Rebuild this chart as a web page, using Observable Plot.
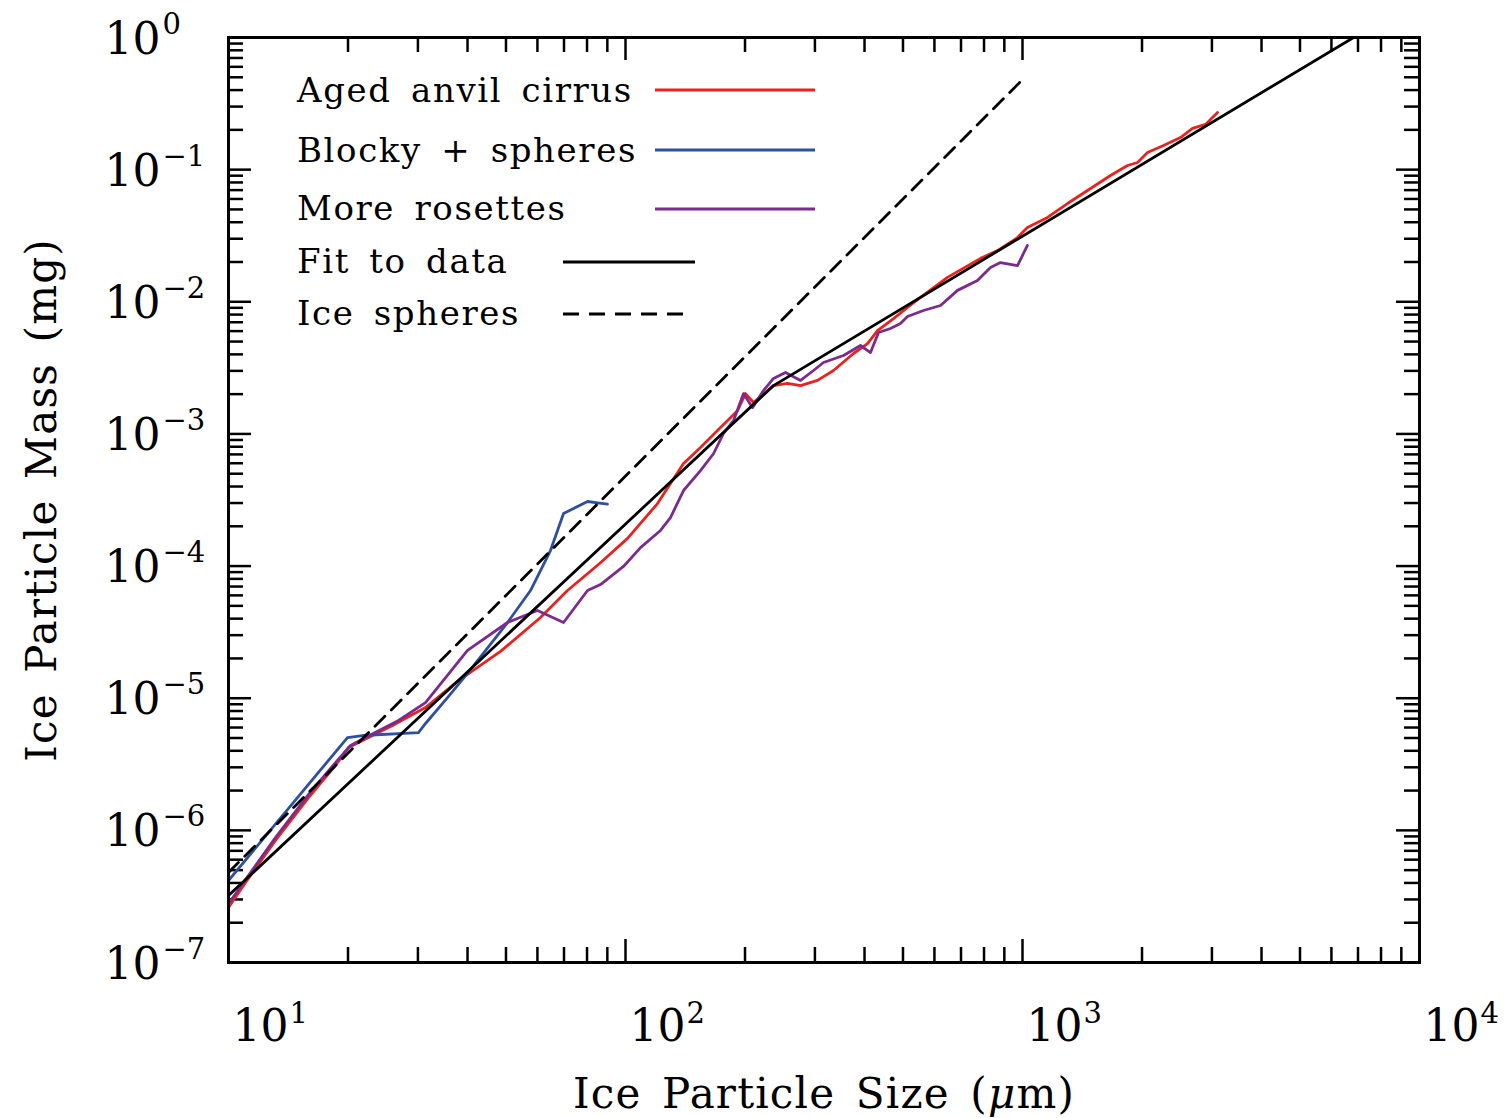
<!DOCTYPE html>
<html><head><meta charset="utf-8">
<script src="https://cdn.jsdelivr.net/npm/d3@7"></script>
<script src="https://cdn.jsdelivr.net/npm/@observablehq/plot@0.6"></script>
<style>body{margin:0;background:#fff}</style>
</head><body><div id="chart"></div>
<script>
// ---- data (size in µm, mass in mg) ----
const agedSize = [10, 11.04, 13.13, 15.91, 18.6, 20.06, 22.53, 25.89, 31.35, 37.74, 48.44, 61.08, 71.43, 86.49, 101.2, 120.4, 140.0, 154.5, 173.5, 191.5, 200.6, 210.1, 235.9, 255.9, 276.0, 304.5, 334.2, 375.2, 407.0, 431.3, 473.3, 513.3, 553.4, 647.2, 783.9, 865.0, 971.4, 1029, 1156, 1298, 1458, 1666, 1839, 1949, 2065, 2266, 2500, 2681, 2891, 3099];
const agedMass = [2.61e-7, 4.03e-7, 8.38e-7, 1.77e-6, 3.10e-6, 4.24e-6, 5.04e-6, 6.21e-6, 8.51e-6, 1.34e-5, 2.26e-5, 4.08e-5, 6.53e-5, 1.06e-4, 1.62e-4, 2.97e-4, 5.97e-4, 7.89e-4, 1.12e-3, 1.50e-3, 2.02e-3, 1.73e-3, 2.32e-3, 2.41e-3, 2.32e-3, 2.54e-3, 3.02e-3, 4.06e-3, 4.83e-3, 6.06e-3, 7.47e-3, 9.05e-3, 1.08e-2, 1.53e-2, 2.13e-2, 2.44e-2, 3.06e-2, 3.65e-2, 4.35e-2, 5.54e-2, 6.95e-2, 9.03e-2, 0.1075, 0.1132, 0.1348, 0.1524, 0.175, 0.205, 0.220, 0.271];

const blockySize = [10, 19.94, 21.76, 30.10, 31.35, 35.62, 40.0, 50.44, 57.64, 64.72, 69.81, 80.23, 85.04, 90.08];
const blockyMass = [4.17e-7, 5.04e-6, 5.22e-6, 5.50e-6, 6.44e-6, 1.01e-5, 1.54e-5, 3.74e-5, 6.53e-5, 1.31e-4, 2.50e-4, 3.08e-4, 3.01e-4, 2.94e-4];

const roseSize = [10, 11.04, 13.13, 15.91, 18.6, 20.29, 22.13, 26.81, 31.35, 40.0, 50.44, 60.03, 69.81, 80.23, 86.49, 98.85, 109.1, 122.5, 129.8, 140.0, 154.5, 166.7, 176.6, 187.1, 198.3, 208.9, 222.6, 235.9, 252.9, 276.0, 297.6, 315.3, 354.1, 390.8, 414.1, 433.9, 465.0, 492.7, 513.3, 563.1, 621.6, 686.1, 770.1, 830.6, 880.1, 971.4, 1029];
const roseMass = [2.79e-7, 4.25e-7, 8.83e-7, 1.87e-6, 3.26e-6, 4.39e-6, 5.04e-6, 6.78e-6, 9.27e-6, 2.30e-5, 3.74e-5, 4.61e-5, 3.74e-5, 6.53e-5, 7.25e-5, 9.93e-5, 1.38e-4, 1.86e-4, 2.33e-4, 3.73e-4, 5.28e-4, 7.11e-4, 1.01e-3, 1.26e-3, 2.02e-3, 1.58e-3, 2.13e-3, 2.63e-3, 2.92e-3, 2.54e-3, 3.02e-3, 3.47e-3, 3.92e-3, 4.67e-3, 4.13e-3, 5.86e-3, 6.28e-3, 6.85e-3, 7.74e-3, 8.59e-3, 9.37e-3, 1.22e-2, 1.45e-2, 1.82e-2, 1.98e-2, 1.88e-2, 2.67e-2];

const fitSize = [10, 235.9, 6822];
const fitMass = [3.21e-7, 2.32e-3, 1];

const sphereSize = [10, 1000];
const sphereMass = [4.8e-7, 0.48];

// ---- axes / ticks ----
const xTickVals = [10, 100, 1000, 10000];
const xTickExps = ["1", "2", "3", "4"];
const yTickVals = [1, 1e-1, 1e-2, 1e-3, 1e-4, 1e-5, 1e-6, 1e-7];
const yTickExps = ["0", "\u22121", "\u22122", "\u22123", "\u22124", "\u22125", "\u22126", "\u22127"];
const xMajor = [100, 1000];
const xMinor = [20,30,40,50,60,70,80,90,200,300,400,500,600,700,800,900,2000,3000,4000,5000,6000,7000,8000,9000];
const yMajor = [1e-1, 1e-2, 1e-3, 1e-4, 1e-5, 1e-6];
const yMinor = [];
[1e-7,1e-6,1e-5,1e-4,1e-3,1e-2,1e-1].forEach(e => { for (let k = 2; k <= 9; k++) yMinor.push(+(k*e).toPrecision(3)); });

const xTitle = "Ice Particle Size (\u03bcm)";
const yTitle = "Ice Particle Mass (mg)";

const legendLabels = ["Aged anvil cirrus", "Blocky + spheres", "More rosettes", "Fit to data", "Ice spheres"];
const colRed = "#e8231f", colBlue = "#2f4f9f", colPurple = "#7b2a8e";

const toRows = (xs, ys) => xs.map((x, i) => ({size: x, mass: ys[i]}));
const aged = toRows(agedSize, agedMass);
const blocky = toRows(blockySize, blockyMass);
const rose = toRows(roseSize, roseMass);
const fit = toRows(fitSize, fitMass);
const sphere = toRows(sphereSize, sphereMass);

const W = 1505, H = 1118, mL = 228, mR = 86, mT = 37, mB = 156;
const plotW = W - mL - mR, plotH = H - mT - mB;
const textFont = "DejaVu Serif, serif";
const lw = 2.8;

const plot = Plot.plot({
  width: W, height: H,
  marginLeft: mL, marginRight: mR, marginTop: mT, marginBottom: mB,
  x: {type: "log", domain: [10, 10000], axis: null},
  y: {type: "log", domain: [1e-7, 1], axis: null},
  marks: [
    // ticks (inward, all four sides)
    Plot.ruleX(xMinor, {x: d => d, insetTop: plotH - 15, strokeWidth: 2.5}),
    Plot.ruleX(xMinor, {x: d => d, insetBottom: plotH - 15, strokeWidth: 2.5}),
    Plot.ruleX(xMajor, {x: d => d, insetTop: plotH - 23, strokeWidth: 2.5}),
    Plot.ruleX(xMajor, {x: d => d, insetBottom: plotH - 23, strokeWidth: 2.5}),
    Plot.ruleY(yMinor, {y: d => d, insetRight: plotW - 15, strokeWidth: 2.5}),
    Plot.ruleY(yMinor, {y: d => d, insetLeft: plotW - 15, strokeWidth: 2.5}),
    Plot.ruleY(yMajor, {y: d => d, insetRight: plotW - 23, strokeWidth: 2.5}),
    Plot.ruleY(yMajor, {y: d => d, insetLeft: plotW - 23, strokeWidth: 2.5}),
    // data
    Plot.line(aged, {x: "size", y: "mass", stroke: colRed, strokeWidth: lw, clip: true}),
    Plot.line(blocky, {x: "size", y: "mass", stroke: colBlue, strokeWidth: lw, clip: true}),
    Plot.line(rose, {x: "size", y: "mass", stroke: colPurple, strokeWidth: lw, clip: true}),
    Plot.line(fit, {x: "size", y: "mass", stroke: "black", strokeWidth: lw, clip: true}),
    Plot.line(sphere, {x: "size", y: "mass", stroke: "black", strokeWidth: lw, strokeDasharray: "14,9", clip: true}),
    Plot.frame({stroke: "black", strokeWidth: 3}),
    // tick labels
    Plot.text(xTickVals, {x: d => d, frameAnchor: "bottom", text: () => "10", dx: 4, dy: 78, textAnchor: "start", lineAnchor: "bottom", fontSize: 44, fontFamily: textFont, fill: "black"}),
    Plot.text(xTickVals, {x: d => d, frameAnchor: "bottom", text: (d, i) => xTickExps[i], dx: 61, dy: 60, textAnchor: "start", lineAnchor: "bottom", fontSize: 29, fontFamily: textFont, fill: "black"}),
    Plot.text(yTickVals, {y: d => d, frameAnchor: "left", text: () => "10", dx: -124, dy: 16, textAnchor: "start", lineAnchor: "bottom", fontSize: 44, fontFamily: textFont, fill: "black"}),
    Plot.text(yTickVals, {y: d => d, frameAnchor: "left", text: (d, i) => yTickExps[i], dx: -66, dy: -4, textAnchor: "start", lineAnchor: "bottom", fontSize: 29, fontFamily: textFont, fill: "black"}),
    // axis titles
    Plot.text([xTitle], {frameAnchor: "bottom", dy: 145, textAnchor: "middle", lineAnchor: "bottom", fontSize: 42, fontFamily: textFont, fill: "black"}),
    Plot.text([yTitle], {frameAnchor: "left", dx: -173, rotate: -90, textAnchor: "middle", lineAnchor: "bottom", fontSize: 42, fontFamily: textFont, fill: "black"})
  ]
});

const svg = d3.select(plot);
// title spacing like the original typesetting
svg.selectAll("text").filter(function() { return this.textContent === xTitle || this.textContent === yTitle; })
  .attr("letter-spacing", 1.2).attr("word-spacing", 6);
// italic mu in the x title
svg.selectAll("text").filter(function() { return this.textContent === xTitle; }).each(function() {
  const t = d3.select(this);
  t.text(null);
  t.append("tspan").text("Ice Particle Size (");
  t.append("tspan").attr("font-style", "italic").text("\u03bc");
  t.append("tspan").text("m)");
});

// legend
const lg = svg.append("g").attr("font-family", textFont).attr("font-size", 34).attr("fill", "black")
  .attr("text-anchor", "start").attr("letter-spacing", 1.6).attr("word-spacing", 7);
const legBase = [102, 162, 220, 273, 325];
const legLineY = [90, 150, 209, 262, 314];
const legX1 = [655, 655, 655, 563, 563];
const legX2 = [815, 815, 815, 695, 685];
const legStroke = [colRed, colBlue, colPurple, "black", "black"];
const legDash = [null, null, null, null, "16,10"];
legendLabels.forEach((lab, i) => {
  lg.append("text").attr("x", 297).attr("y", legBase[i]).text(lab);
  lg.append("line").attr("x1", legX1[i]).attr("x2", legX2[i]).attr("y1", legLineY[i]).attr("y2", legLineY[i])
    .attr("stroke", legStroke[i]).attr("stroke-width", lw).attr("stroke-dasharray", legDash[i]);
});

document.getElementById("chart").appendChild(plot);
</script>
</body></html>
